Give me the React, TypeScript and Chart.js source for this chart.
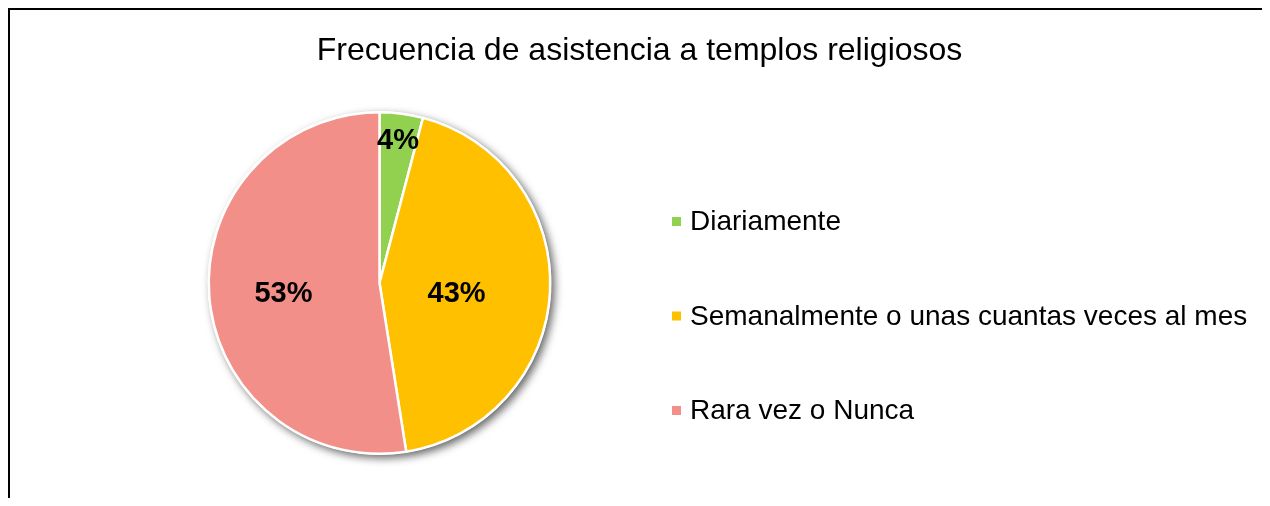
import React, { useEffect, useRef } from "react";
import { Chart, registerables } from "chart.js";

Chart.register(...registerables);

const TITLE = "Frecuencia de asistencia a templos religiosos";
const CATEGORIES = [
  "Diariamente",
  "Semanalmente o unas cuantas veces al mes",
  "Rara vez o Nunca",
];
const VALUES = [4.1, 43.4, 52.5];
const COLORS = ["#92D050", "#FFC000", "#F28F88"];

const FONT = "'Liberation Sans', Arial, Helvetica, sans-serif";

// label placement inside each slice (fraction of radius, extra angle in degrees)
const LABEL_PLACEMENT = [
  { r: 0.845, dAngle: 0 },
  { r: 0.455, dAngle: 4.5 },
  { r: 0.565, dAngle: -1.2 },
];

const titlePlugin = {
  id: "customTitle",
  afterDraw(chart: any) {
    const ctx = chart.ctx;
    ctx.save();
    ctx.font = `32px ${FONT}`;
    ctx.fillStyle = "#000";
    ctx.textAlign = "center";
    ctx.textBaseline = "alphabetic";
    ctx.fillText(TITLE, chart.width / 2 + 3, 50);
    ctx.restore();
  },
};

const shadowPlugin = {
  id: "pieShadow",
  beforeDatasetsDraw(chart: any) {
    const meta = chart.getDatasetMeta(0);
    if (!meta.data.length) return;
    const arc = meta.data[0];
    const { x, y, outerRadius } = arc.getProps(["x", "y", "outerRadius"], true);
    const ctx = chart.ctx;
    ctx.save();
    ctx.shadowColor = "rgba(0,0,0,0.6)";
    ctx.shadowBlur = 8;
    ctx.shadowOffsetX = 3.5;
    ctx.shadowOffsetY = 3.5;
    ctx.beginPath();
    ctx.arc(x, y, outerRadius + 1, 0, Math.PI * 2);
    ctx.fillStyle = "#ffffff";
    ctx.fill();
    ctx.restore();
  },
};

const labelsPlugin = {
  id: "sliceLabels",
  afterDatasetsDraw(chart: any) {
    const meta = chart.getDatasetMeta(0);
    const data = chart.data.datasets[0].data as number[];
    const total = data.reduce((a, b) => a + b, 0);
    const ctx = chart.ctx;
    ctx.save();
    ctx.font = `bold 29px ${FONT}`;
    ctx.fillStyle = "#000";
    ctx.textAlign = "center";
    ctx.textBaseline = "middle";
    meta.data.forEach((arc: any, i: number) => {
      const p = arc.getProps(["x", "y", "startAngle", "endAngle", "outerRadius"], true);
      const place = LABEL_PLACEMENT[i];
      const mid = (p.startAngle + p.endAngle) / 2 + (place.dAngle * Math.PI) / 180;
      const r = p.outerRadius * place.r;
      const lx = p.x + Math.cos(mid) * r;
      const ly = p.y + Math.sin(mid) * r;
      const pct = Math.round((data[i] / total) * 100);
      ctx.fillText(pct + "%", lx, ly + 1);
    });
    ctx.restore();
  },
};

const legendPlugin = {
  id: "customLegend",
  afterDraw(chart: any) {
    const ctx = chart.ctx;
    const area = chart.chartArea;
    const x0 = area.right + 120;
    const cy = (area.top + area.bottom) / 2 + 33;
    const gap = 94.5;
    ctx.save();
    ctx.font = `28px ${FONT}`;
    ctx.textBaseline = "middle";
    ctx.textAlign = "left";
    CATEGORIES.forEach((label, i) => {
      const y = cy + (i - 1) * gap;
      ctx.fillStyle = COLORS[i];
      ctx.fillRect(x0, y - 4.5, 9, 9);
      ctx.fillStyle = "#000";
      ctx.fillText(label, x0 + 18, y + 1);
    });
    ctx.restore();
  },
};

export default function App() {
  const ref = useRef<HTMLCanvasElement | null>(null);

  useEffect(() => {
    if (!ref.current) return;
    const chart = new Chart(ref.current, {
      type: "pie",
      data: {
        labels: CATEGORIES,
        datasets: [
          {
            data: VALUES,
            backgroundColor: COLORS,
            borderColor: "#ffffff",
            borderWidth: 2.5,
          },
        ],
      },
      options: {
        responsive: false,
        animation: false,
        events: [],
        layout: {
          padding: { left: 197, right: 711, top: 101, bottom: 43 },
        },
        plugins: {
          legend: { display: false },
          tooltip: { enabled: false },
          title: { display: false },
        },
      },
      plugins: [shadowPlugin, labelsPlugin, legendPlugin, titlePlugin],
    });
    return () => chart.destroy();
  }, []);

  return (
    <div
      style={{
        borderTop: "2px solid #000",
        borderLeft: "2px solid #000",
        borderRight: "2px solid #000",
        width: 1253,
        height: 488,
        background: "#fff",
      }}
    >
      <canvas ref={ref} width={1253} height={488} style={{ display: "block", width: 1253, height: 488 }} />
    </div>
  );
}
